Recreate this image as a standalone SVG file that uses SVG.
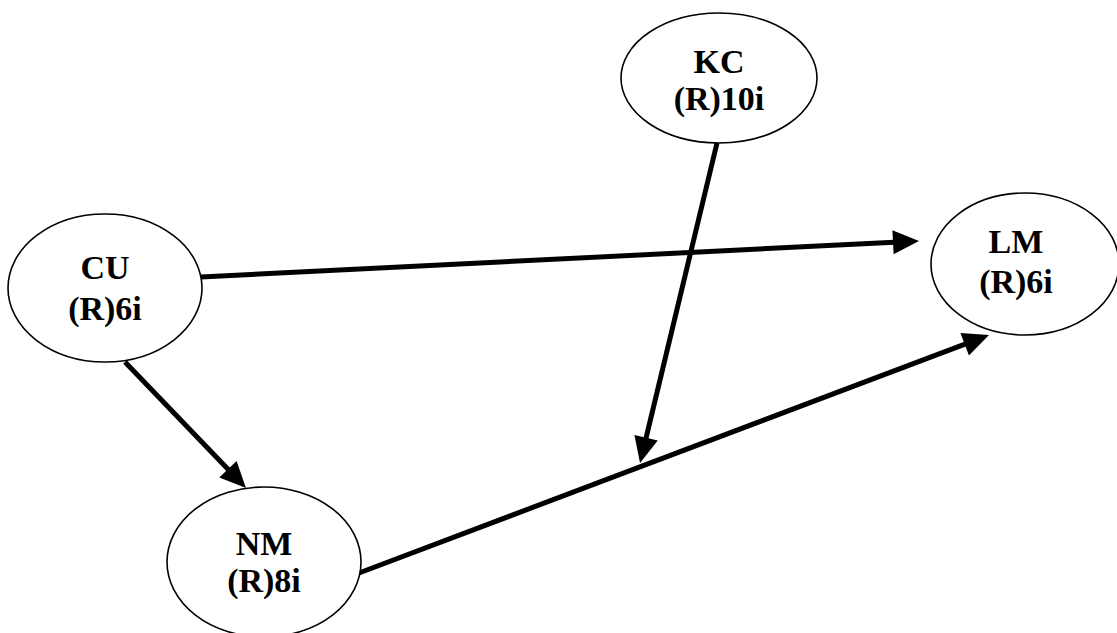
<svg xmlns="http://www.w3.org/2000/svg" width="1117" height="633" viewBox="0 0 1117 633">
  <style>
    .node ellipse { fill: #ffffff; stroke: #000000; stroke-width: 1.6; }
    .node text { font-family: "Liberation Serif", "Times New Roman", serif; font-weight: bold; font-size: 34px; fill: #000000; text-anchor: middle; }
    .edge { stroke: #000000; stroke-width: 5; fill: none; marker-end: url(#head); }
  </style>
  <defs>
    <!-- solid triangular arrowhead; tip sits 20px beyond the line end -->
    <marker id="head" markerUnits="userSpaceOnUse" viewBox="0 0 26 24" markerWidth="26" markerHeight="24" refX="6" refY="12" orient="auto" overflow="visible">
      <path d="M0,0 L26,12 L0,24 Z" fill="#000000"/>
    </marker>
  </defs>

  <rect width="1117" height="633" fill="#ffffff"/>

  <g id="connectors">
    <!-- CU -> LM -->
    <line class="edge" x1="201" y1="277" x2="899" y2="242"/>
    <!-- NM -> LM -->
    <line class="edge" x1="359" y1="573" x2="970.3" y2="342.1"/>
    <!-- KC -> NM/LM link -->
    <line class="edge" x1="717" y1="143" x2="644.7" y2="443.6"/>
    <!-- CU -> NM -->
    <line class="edge" x1="125" y1="362" x2="232.1" y2="473.6"/>
  </g>

  <g id="node-kc" class="node">
    <ellipse cx="719" cy="78" rx="98" ry="65"/>
    <text x="719" y="73">KC</text>
    <text x="719" y="110">(R)10i</text>
  </g>

  <g id="node-cu" class="node">
    <ellipse cx="105" cy="288" rx="97" ry="74"/>
    <text x="105" y="279">CU</text>
    <text x="105" y="320">(R)6i</text>
  </g>

  <g id="node-nm" class="node">
    <ellipse cx="264" cy="562" rx="97" ry="75"/>
    <text x="264" y="555">NM</text>
    <text x="264" y="592">(R)8i</text>
  </g>

  <g id="node-lm" class="node">
    <ellipse cx="1025" cy="264" rx="94" ry="71"/>
    <text x="1016" y="253">LM</text>
    <text x="1016" y="293">(R)6i</text>
  </g>
</svg>
